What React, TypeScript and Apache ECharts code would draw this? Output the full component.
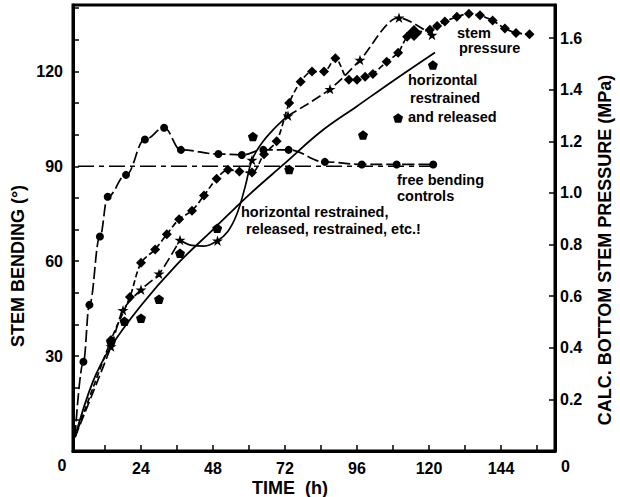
import React, { useEffect, useRef } from "react";
import * as echarts from "echarts";

// ---- Data ----
// free bending controls (filled circles, long-dash line), degrees
const freeT = [2, 4.8, 6.8, 10.3, 12.9, 19, 25.3, 31.7, 37.3, 49.8, 57.6, 64.8, 73.2, 85.3, 97.6, 109.2, 121.4];
const freeV = [4.4, 28.2, 46.2, 67.8, 80.4, 87.3, 98.5, 102.2, 95.2, 93.9, 93.6, 95.2, 95.2, 91.4, 90.6, 90.6, 90.6];

// 90 degree reference (dash-dot)
const refT = [3, 121];
const refV = [90, 90];

// horizontal restrained, released, restrained, etc. (stars)
const starT1 = [2, 14, 18, 24, 30, 37];
const starV1 = [4.4, 33, 44.5, 51, 56, 66.7];
const starTM = [37, 41, 45, 49.5, 53, 56, 58.7, 61, 64, 68, 73];
const starVM = [66.7, 65, 64.8, 66.5, 69.5, 75, 83.5, 92, 97, 101.5, 106];
const starMarkM = [49.5, 61];
const starT2 = [73, 87, 97, 110, 121];
const starV2 = [106, 114.4, 123.6, 137, 131.5];

// stem pressure (diamonds, right axis, MPa)
const stemT = [2, 14, 20.3, 24, 28.7, 32.6, 36.7, 41, 45, 49.2, 53, 56.8, 61, 65, 69.2, 73.4, 77.2, 81, 85, 88.8, 93.3, 96, 98.7, 101.3, 105.9, 109.7, 112.7, 115, 120.3, 122.7, 125.3, 129.3, 133.3, 137, 141.2, 145.3, 149, 153.5];
const stemV = [0.054, 0.43, 0.597, 0.729, 0.781, 0.84, 0.898, 0.931, 0.99, 1.055, 1.09, 1.083, 1.079, 1.15, 1.2, 1.348, 1.431, 1.47, 1.47, 1.522, 1.438, 1.438, 1.45, 1.461, 1.508, 1.543, 1.605, 1.62, 1.632, 1.647, 1.664, 1.682, 1.694, 1.688, 1.668, 1.637, 1.62, 1.615];

// horizontal restrained and released (pentagons, no line)
const pentT = [14, 18.5, 24, 30, 37, 49.4, 61.3, 73.4, 98, 109.7, 121.3];
const pentV = [34.5, 41, 42, 48, 62.5, 70.4, 99.4, 89, 99.9, 105.3, 122];

// solid smooth curve
const solidT = [2, 8, 14, 24, 36, 48, 60, 72, 84, 96, 108, 122];
const solidV = [4.4, 22, 33, 46, 59, 70, 81, 91, 101, 109, 117, 126];

// axis ticks / labels
const xTicks = [12, 24, 36, 48, 60, 72, 84, 96, 108, 120, 132, 144, 156];
const xLabels = [24, 48, 72, 96, 120, 144];
const yTicks = [10, 20, 30, 40, 50, 60, 70, 80, 90, 100, 110, 120, 130, 140];
const yLabels = [30, 60, 90, 120];
const y2Ticks = [0.2, 0.4, 0.6, 0.8, 1.0, 1.2, 1.4, 1.6];
const y2Labels = [0.2, 0.4, 0.6, 0.8, 1.0, 1.2, 1.4, 1.6];

const FAM = '"Liberation Sans", Arial, Helvetica, sans-serif';
const STAR = "path://M50,0 L61.8,36.2 L100,36.2 L69.1,58.8 L80.9,95.1 L50,72.7 L19.1,95.1 L30.9,58.8 L0,36.2 L38.2,36.2 Z";
const PENT = "path://M50,0 L100,36.3 L80.9,95.1 L19.1,95.1 L0,36.3 Z";

const pairs = (t: number[], v: number[]) => t.map((x, i) => [x, v[i]]);

function buildOption() {
  const black = "#000";
  const labelStyle = { color: black, fontFamily: FAM, fontWeight: "bold" as const, fontSize: 16 };
  const annoFont = `bold 14.5px ${FAM}`;
  const nameFont = `bold 18px ${FAM}`;
  const txt = (text: string, x: number, y: number, font: string, align = "left", rotation = 0) => ({
    type: "text",
    x,
    y,
    rotation,
    silent: true,
    style: { text, font, fill: black, textAlign: align, textVerticalAlign: "middle", align, verticalAlign: "middle" },
  });

  const freeData = pairs(freeT, freeV).map((p, i) => (i === 0 ? { value: p, symbol: "none" } : p));
  const star1 = pairs(starT1, starV1).map((p, i) => (i === 0 ? { value: p, symbol: "none" } : p));
  const starM = pairs(starTM, starVM).map((p) =>
    starMarkM.includes(p[0]) ? p : { value: p, symbol: "none" }
  );
  const stemData = pairs(stemT, stemV).map((p, i) => {
    if (i === 0) return { value: p, symbol: "none" };
    if (p[0] === 115) return { value: p, symbolSize: 16 };
    return p;
  });

  return {
    animation: false,
    backgroundColor: "#fff",
    grid: { left: 73, right: 65, top: 5, bottom: 46, show: true, borderColor: black, borderWidth: 3 },
    xAxis: {
      type: "value",
      min: 1.33,
      max: 162,
      axisLine: { show: true, onZero: false, lineStyle: { color: black, width: 3 } },
      axisTick: { show: true, inside: true, length: 6, lineStyle: { color: black, width: 1.5 }, customValues: xTicks },
      axisLabel: { ...labelStyle, margin: 9, customValues: xLabels },
      splitLine: { show: false },
    },
    yAxis: [
      {
        type: "value",
        min: 0,
        max: 141,
        position: "left",
        axisLine: { show: true, onZero: false, lineStyle: { color: black, width: 3 } },
        axisTick: { show: true, inside: true, length: 6, lineStyle: { color: black, width: 1.5 }, customValues: yTicks },
        axisLabel: { ...labelStyle, margin: 10, customValues: yLabels },
        splitLine: { show: false },
      },
      {
        type: "value",
        min: 0,
        max: 1.728,
        position: "right",
        axisLine: { show: true, onZero: false, lineStyle: { color: black, width: 3 } },
        axisTick: { show: true, inside: true, length: 6, lineStyle: { color: black, width: 1.5 }, customValues: y2Ticks },
        axisLabel: {
          ...labelStyle,
          margin: 5,
          customValues: y2Labels,
          formatter: (v: number) => (v === 0 ? "0" : v.toFixed(1)),
        },
        splitLine: { show: false },
      },
    ],
    series: [
      {
        name: "solid",
        type: "line",
        smooth: 0.4,
        symbol: "none",
        data: pairs(solidT, solidV),
        lineStyle: { color: black, width: 1.8 },
      },
      {
        name: "ref90",
        type: "line",
        symbol: "none",
        data: pairs(refT, refV),
        lineStyle: { color: black, width: 1.6, type: [16, 5, 5, 5] },
      },
      {
        name: "free bending controls",
        type: "line",
        smooth: 0.4,
        smoothMonotone: "x",
        symbol: "circle",
        symbolSize: 8,
        data: freeData,
        itemStyle: { color: black, opacity: 1 },
        lineStyle: { color: black, width: 1.7, type: [12, 4] },
      },
      {
        name: "stars1",
        type: "line",
        smooth: 0.3,
        symbol: STAR,
        symbolSize: 11,
        symbolKeepAspect: true,
        data: star1,
        itemStyle: { color: black, opacity: 1 },
        lineStyle: { color: black, width: 1.7, type: [10, 4] },
      },
      {
        name: "starsMid",
        type: "line",
        smooth: 0.4,
        symbol: STAR,
        symbolSize: 11,
        symbolKeepAspect: true,
        data: starM,
        itemStyle: { color: black, opacity: 1 },
        lineStyle: { color: black, width: 1.7 },
      },
      {
        name: "stars2",
        type: "line",
        smooth: 0.3,
        symbol: STAR,
        symbolSize: 11,
        symbolKeepAspect: true,
        data: pairs(starT2, starV2),
        itemStyle: { color: black, opacity: 1 },
        lineStyle: { color: black, width: 1.7, type: [10, 4] },
      },
      {
        name: "stem pressure",
        type: "line",
        yAxisIndex: 1,
        smooth: 0.3,
        symbol: "diamond",
        symbolSize: 10,
        data: stemData,
        itemStyle: { color: black, opacity: 1 },
        lineStyle: { color: black, width: 1.7, type: [6, 3] },
      },
      {
        name: "horizontal restrained and released",
        type: "scatter",
        symbol: PENT,
        symbolSize: 10,
        symbolKeepAspect: true,
        data: pairs(pentT, pentV),
        itemStyle: { color: black, opacity: 1 },
      },
    ],
    graphic: [
      txt("0", 62, 465, `bold 16px ${FAM}`, "center"),
      txt("0", 561, 466, `bold 16px ${FAM}`, "left"),
      txt("STEM BENDING (°)", 18, 266, nameFont, "center", Math.PI / 2),
      txt("CALC. BOTTOM STEM PRESSURE (MPa)", 605, 250, nameFont, "center", Math.PI / 2),
      txt("TIME  (h)", 290, 488, nameFont, "center"),
      txt("stem", 457, 33, annoFont),
      txt("pressure", 459, 48, annoFont),
      txt("horizontal", 408, 80, annoFont),
      txt("restrained", 410, 98, annoFont),
      txt("and released", 408, 117, annoFont),
      txt("free bending", 397, 180, annoFont),
      txt("controls", 397, 196, annoFont),
      txt("horizontal restrained,", 241, 212, annoFont),
      txt("released, restrained, etc.!", 246, 229, annoFont),
    ],
  };
}

export default function App() {
  const ref = useRef<HTMLDivElement>(null);
  useEffect(() => {
    if (!ref.current) return;
    const chart = echarts.init(ref.current, null, { renderer: "svg" });
    chart.setOption(buildOption() as any);
    return () => chart.dispose();
  }, []);
  return (
    <div
      ref={ref}
      style={{ position: "fixed", left: 0, top: 0, width: 620, height: 497, background: "#fff" }}
    />
  );
}
